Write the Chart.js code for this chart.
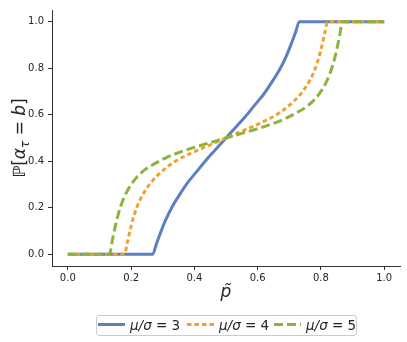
<!DOCTYPE html>
<html>
<head>
<meta charset="utf-8">
<script src="https://cdn.jsdelivr.net/npm/chart.js@4/dist/chart.umd.min.js"></script>
<style>
  html, body { margin: 0; padding: 0; background: #fff; }
  #wrap { width: 407px; height: 342px; position: relative; }
</style>
</head>
<body>
<div id="wrap"><canvas id="myChart" width="407" height="342"></canvas></div>
<script>
// values
const p3 = [0.0, 0.268, 0.28, 0.295, 0.31, 0.33, 0.355, 0.38, 0.41, 0.44, 0.47, 0.5,
            0.53, 0.56, 0.59, 0.62, 0.645, 0.67, 0.69, 0.705, 0.72, 0.732, 1.0];
const y3 = [0.0, 0.0, 0.045, 0.10, 0.15, 0.205, 0.26, 0.31, 0.36, 0.41, 0.455, 0.5,
            0.545, 0.59, 0.64, 0.69, 0.74, 0.795, 0.85, 0.90, 0.955, 1.0, 1.0];

const p4 = [0.0, 0.179, 0.188, 0.198, 0.21, 0.225, 0.245, 0.27, 0.30, 0.34, 0.39, 0.44, 0.5,
            0.56, 0.61, 0.66, 0.70, 0.73, 0.755, 0.775, 0.79, 0.802, 0.812, 0.821, 1.0];
const y4 = [0.0, 0.0, 0.05, 0.11, 0.17, 0.225, 0.275, 0.32, 0.36, 0.40, 0.435, 0.465, 0.5,
            0.535, 0.565, 0.60, 0.64, 0.68, 0.725, 0.775, 0.83, 0.89, 0.95, 1.0, 1.0];

const p5 = [0.0, 0.132, 0.14, 0.15, 0.16, 0.172, 0.185, 0.20, 0.22, 0.245, 0.275, 0.31, 0.35, 0.40, 0.45, 0.5,
            0.55, 0.60, 0.65, 0.69, 0.725, 0.755, 0.78, 0.80, 0.815, 0.828, 0.84, 0.85, 0.86, 0.868, 1.0];
const y5 = [0.0, 0.0, 0.055, 0.12, 0.175, 0.225, 0.265, 0.30, 0.335, 0.365, 0.39, 0.415, 0.437, 0.46, 0.48, 0.5,
            0.52, 0.54, 0.563, 0.585, 0.61, 0.635, 0.665, 0.70, 0.735, 0.775, 0.825, 0.88, 0.945, 1.0, 1.0];

const ratios = ['3', '4', '5'];
const xTicks = [0.0, 0.2, 0.4, 0.6, 0.8, 1.0];
const yTicks = [0.0, 0.2, 0.4, 0.6, 0.8, 1.0];

const colors = ['#5b7fc0', '#eea232', '#8db33d'];
const dashes = [[], [4.5, 3], [9, 4]];

function pts(xs, ys) {
  return xs.map((x, i) => ({ x: x, y: ys[i] }));
}

const series = [pts(p3, y3), pts(p4, y4), pts(p5, y5)];

const INK = '#262626';

// axis titles + legend, drawn as text on the canvas
const extras = {
  id: 'extras',
  afterDraw(chart) {
    const ctx = chart.ctx;
    const area = chart.chartArea;
    ctx.save();
    ctx.fillStyle = INK;

    // y title: P[alpha_tau = b]
    ctx.save();
    ctx.translate(19, (area.top + area.bottom) / 2);
    ctx.rotate(-Math.PI / 2);
    ctx.textBaseline = 'alphabetic';
    const big = 17;
    const parts = [
      { t: 'ℙ', f: big + 'px "DejaVu Sans"', dy: 0 },
      { t: '[', f: big + 'px "DejaVu Sans"', dy: 0 },
      { t: 'α', f: 'italic ' + big + 'px "DejaVu Sans"', dy: 0 },
      { t: 'τ', f: 'italic ' + Math.round(big * 0.7) + 'px "DejaVu Sans"', dy: 3.5 },
      { t: ' = ', f: big + 'px "DejaVu Sans"', dy: 0 },
      { t: 'b', f: 'italic ' + big + 'px "DejaVu Sans"', dy: 0 },
      { t: ']', f: big + 'px "DejaVu Sans"', dy: 0 }
    ];
    let w = 0;
    parts.forEach(p => { ctx.font = p.f; w += ctx.measureText(p.t).width; });
    let cx = -w / 2;
    parts.forEach(p => {
      ctx.font = p.f;
      ctx.fillText(p.t, cx, 6 + p.dy);
      cx += ctx.measureText(p.t).width;
    });
    ctx.restore();

    // x title: p tilde
    ctx.font = 'italic 17px "DejaVu Sans"';
    ctx.textAlign = 'center';
    ctx.textBaseline = 'alphabetic';
    ctx.fillText('p\u0303', (area.left + area.right) / 2, 297);

    // legend
    const boxL = 96.5, boxT = 315.5, boxW = 260, boxH = 20;
    ctx.strokeStyle = '#cccccc';
    ctx.lineWidth = 1;
    ctx.beginPath();
    ctx.roundRect(boxL, boxT, boxW, boxH, 2.5);
    ctx.stroke();

    const starts = [98, 187, 274];
    const ly = 324.5;
    ratios.forEach((r, i) => {
      ctx.save();
      ctx.strokeStyle = colors[i];
      ctx.lineWidth = 3;
      ctx.setLineDash(dashes[i]);
      ctx.beginPath();
      ctx.moveTo(starts[i], ly);
      ctx.lineTo(starts[i] + 27, ly);
      ctx.stroke();
      ctx.restore();

      let tx = starts[i] + 32;
      const segs = [
        { t: 'μ/σ', f: 'italic 13.5px "DejaVu Sans"' },
        { t: ' = ', f: '13.5px "DejaVu Sans"' },
        { t: r, f: '13.5px "DejaVu Sans"' }
      ];
      ctx.textAlign = 'left';
      ctx.fillStyle = INK;
      segs.forEach(s => {
        ctx.font = s.f;
        ctx.fillText(s.t, tx, 329.5);
        tx += ctx.measureText(s.t).width;
      });
    });
    ctx.restore();
  }
};

new Chart('myChart', {
  type: 'line',
  data: {
    datasets: series.map((d, i) => ({
      label: 'μ/σ = ' + ratios[i],
      data: d,
      borderColor: colors[i],
      backgroundColor: colors[i],
      borderWidth: 3,
      borderDash: dashes[i],
      borderCapStyle: 'butt',
      pointRadius: 0,
      cubicInterpolationMode: 'monotone',
      fill: false,
      order: 2 - i
    }))
  },
  options: {
    responsive: false,
    animation: false,
    layout: { padding: { left: 0, right: 7, top: 6, bottom: 0 } },
    plugins: { legend: { display: false }, tooltip: { enabled: false } },
    scales: {
      x: {
        type: 'linear',
        min: -0.05,
        max: 1.05,
        afterBuildTicks: s => { s.ticks = xTicks.map(v => ({ value: v })); },
        afterFit: s => { s.height = 76; },
        ticks: {
          font: { family: 'DejaVu Sans', size: 10 },
          color: INK,
          padding: 2,
          maxRotation: 0,
          callback: v => v.toFixed(1)
        },
        grid: { drawOnChartArea: false, drawTicks: true, tickLength: 4, color: '#333' },
        border: { display: true, color: '#333', width: 1 }
      },
      y: {
        type: 'linear',
        min: -0.05,
        max: 1.05,
        afterBuildTicks: s => { s.ticks = yTicks.map(v => ({ value: v })); },
        afterFit: s => { s.width = 52; },
        ticks: {
          font: { family: 'DejaVu Sans', size: 10 },
          color: INK,
          padding: 4,
          callback: v => v.toFixed(1)
        },
        grid: { drawOnChartArea: false, drawTicks: true, tickLength: 4, color: '#333' },
        border: { display: true, color: '#333', width: 1 }
      }
    }
  },
  plugins: [extras]
});
</script>
</body>
</html>
